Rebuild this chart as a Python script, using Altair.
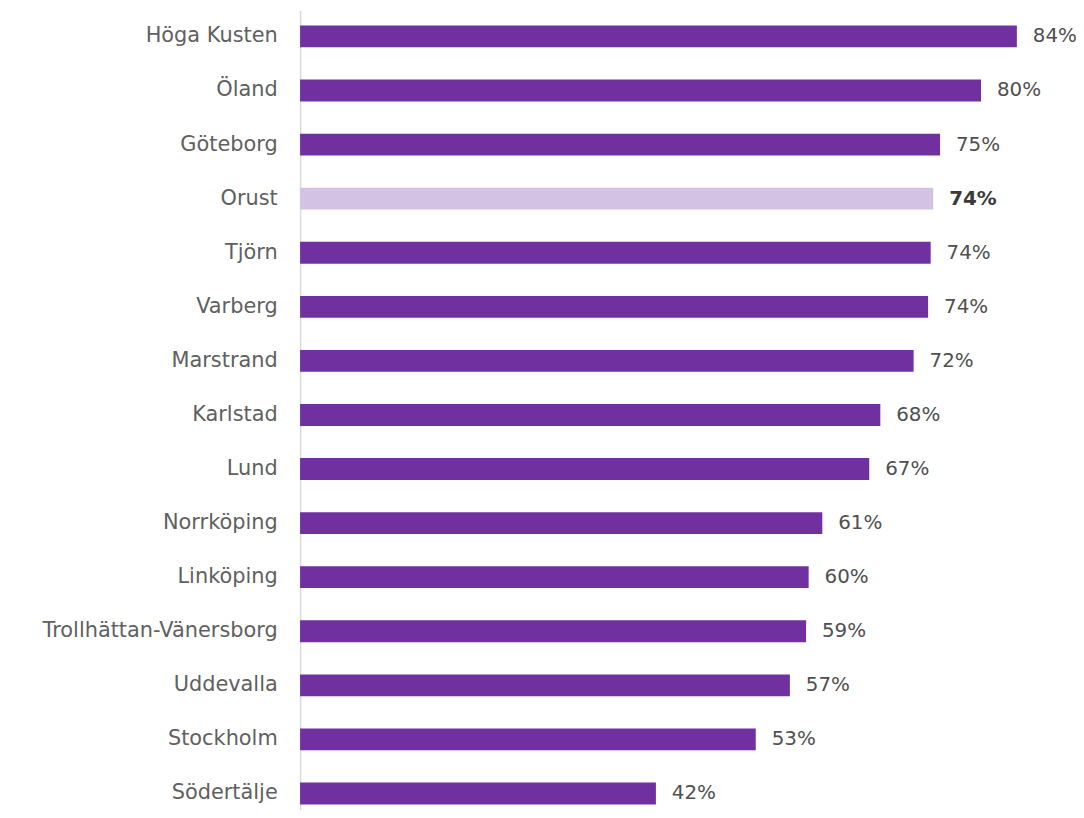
import altair as alt
import pandas as pd

categories = ["Höga Kusten", "Öland", "Göteborg", "Orust", "Tjörn", "Varberg",
              "Marstrand", "Karlstad", "Lund", "Norrköping", "Linköping",
              "Trollhättan-Vänersborg", "Uddevalla", "Stockholm", "Södertälje"]
values = [0.840, 0.798, 0.750, 0.742, 0.739, 0.736, 0.719, 0.680, 0.667,
          0.612, 0.596, 0.593, 0.574, 0.534, 0.417]
highlight = "Orust"

df = pd.DataFrame({"ort": categories, "andel": values})
df["barcolor"] = ["#D4C2E4" if c == highlight else "#7030A0" for c in categories]
df["hl"] = [c == highlight for c in categories]

FONT = "DejaVu Sans"

y = alt.Y("ort:N", sort=categories, title=None,
          scale=alt.Scale(paddingInner=0.596, paddingOuter=0.1836, align=0.75, round=False),
          axis=alt.Axis(ticks=False, labelPadding=23, labelFontSize=21,
                        labelColor="#606060", labelFont=FONT, labelLimit=400,
                        domainColor="#D9D9D9", domainWidth=1.5, grid=False))
x = alt.X("andel:Q", title=None,
          scale=alt.Scale(domain=[0, 0.9], nice=False, zero=True, round=False),
          axis=None)

bars = alt.Chart(df).mark_bar().encode(
    x=x, y=y, color=alt.Color("barcolor:N", scale=None)
)

labels = alt.Chart(df).transform_filter("!datum.hl").mark_text(
    align="left", baseline="middle", dx=16, fontSize=20, font=FONT, color="#505050"
).encode(
    x=x, y=alt.Y("ort:N", sort=categories),
    text=alt.Text("andel:Q", format=".0%"),
)

labels_hl = alt.Chart(df).transform_filter("datum.hl").mark_text(
    align="left", baseline="middle", dx=16, fontSize=20, font=FONT,
    fontWeight="bold", color="#3A3A3A"
).encode(
    x=x, y=alt.Y("ort:N", sort=categories),
    text=alt.Text("andel:Q", format=".0%"),
)

chart = (bars + labels + labels_hl).properties(
    width=773, height=804,
    autosize=alt.AutoSizeParams(type="none"),
    padding={"left": 294, "top": 0, "right": 8, "bottom": 0},
    background="white",
).configure_view(stroke=None)

chart.save("out.html", embed_options={"renderer": "svg", "actions": False})
